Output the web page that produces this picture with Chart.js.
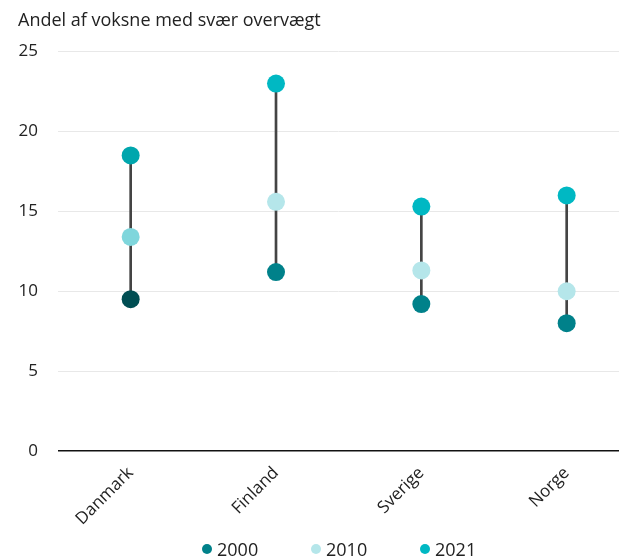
<!DOCTYPE html>
<html>
<head>
<meta charset="utf-8">
<script src="https://cdn.jsdelivr.net/npm/chart.js@4"></script>
<style>
  body { margin: 0; background: #fff; font-family: 'Open Sans', sans-serif; }
  #wrap { position: relative; width: 628px; height: 558px; }
  #legend { position: absolute; left: 0; top: 537px; width: 628px; display: flex; justify-content: flex-start; font-size: 18px; color: #222; line-height: 24px; }
  #legend span.item { display: inline-flex; align-items: center; width: 109px; }
  #legend span.dot { width: 10px; height: 10px; border-radius: 50%; margin-right: 5px; }
</style>
</head>
<body>
<div id="wrap"><canvas id="chart"></canvas><div id="legend"></div></div>
<script>
const countries = ["Danmark", "Finland", "Sverige", "Norge"];
const years = ["2000", "2010", "2021"];
const v2000 = [9.5, 11.2, 9.2, 8.0];
const v2010 = [13.4, 15.6, 11.3, 10.0];
const v2021 = [18.5, 23.0, 15.3, 16.0];
const yTicks = [0, 5, 10, 15, 20, 25];

// Danmark is drawn in its own shades
const colors2000 = ["#004e53", "#00818a", "#00818a", "#00818a"];
const colors2010 = ["#7fd6dc", "#b5e6ea", "#b5e6ea", "#b5e6ea"];
const colors2021 = ["#00a6ad", "#00b8c3", "#00b8c3", "#00b8c3"];
const legendColors = ["#00818a", "#b5e6ea", "#00b8c3"];

const toPoints = vals => vals.map((v, i) => ({ x: i, y: v }));
const ranges = countries.map((c, i) => ({
    x: i,
    y: [Math.min(v2000[i], v2010[i], v2021[i]), Math.max(v2000[i], v2010[i], v2021[i])]
}));

const family = "'Open Sans', sans-serif";

function dots(label, vals, cols) {
    return {
        type: "scatter",
        label: label,
        data: toPoints(vals),
        backgroundColor: cols,
        borderWidth: 0,
        pointRadius: 9,
        pointHoverRadius: 9,
        order: 0
    };
}

new Chart(document.getElementById("chart"), {
    data: {
        datasets: [
            {
                type: "bar",
                label: "range",
                data: ranges,
                backgroundColor: "#444",
                barThickness: 2,
                order: 1
            },
            dots(years[0], v2000, colors2000),
            dots(years[1], v2010, colors2010),
            dots(years[2], v2021, colors2021)
        ]
    },
    options: {
        responsive: true,
        maintainAspectRatio: false,
        animation: false,
        layout: { padding: { left: 18, right: 0, top: 10, bottom: 17 } },
        scales: {
            x: {
                type: "linear",
                offset: false,
                min: -0.5,
                max: 3.36,
                afterBuildTicks: axis => { axis.ticks = countries.map((c, i) => ({ value: i })); },
                afterFit: axis => { axis.height = 90; },
                ticks: {
                    callback: v => countries[v],
                    maxRotation: 45,
                    minRotation: 45,
                    color: "#222",
                    font: { family: family, size: 17 },
                    padding: 4
                },
                grid: { display: false },
                border: { display: false }
            },
            y: {
                min: 0,
                max: 25,
                afterBuildTicks: axis => { axis.ticks = yTicks.map(v => ({ value: v })); },
                afterFit: axis => { axis.width = 40; },
                ticks: { color: "#222", font: { family: family, size: 17 }, padding: 20 },
                grid: {
                    color: ctx => ctx.tick && ctx.tick.value === 0 ? "#111" : "#e8e8e8",
                    lineWidth: ctx => ctx.tick && ctx.tick.value === 0 ? 1.5 : 1,
                    drawTicks: false
                },
                border: { display: false }
            }
        },
        plugins: {
            title: {
                display: true,
                text: "Andel af voksne med svær overvægt",
                align: "start",
                color: "#222",
                font: { family: family, size: 18, weight: "normal" },
                padding: { top: 0, bottom: 20 }
            },
            legend: { display: false },
            tooltip: { enabled: false }
        }
    }
});

// legend below the plot
const legendEl = document.getElementById("legend");
legendEl.style.paddingLeft = "202px";
years.forEach((y, i) => {
    const item = document.createElement("span");
    item.className = "item";
    const dot = document.createElement("span");
    dot.className = "dot";
    dot.style.background = legendColors[i];
    item.appendChild(dot);
    item.appendChild(document.createTextNode(y));
    legendEl.appendChild(item);
});
</script>
</body>
</html>
